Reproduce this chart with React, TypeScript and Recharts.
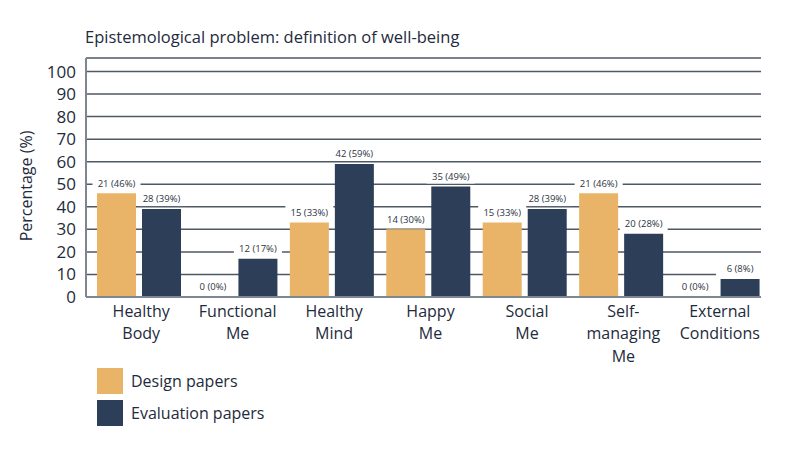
import React from 'react';
import { BarChart, Bar, XAxis, YAxis, CartesianGrid, LabelList } from 'recharts';

const categories = [
  'Healthy\nBody',
  'Functional\nMe',
  'Healthy\nMind',
  'Happy\nMe',
  'Social\nMe',
  'Self-\nmanaging\nMe',
  'External\nConditions',
];
const designPercent = [46, 0, 33, 30, 33, 46, 0];
const designCount = [21, 0, 15, 14, 15, 21, 0];
const evalPercent = [39, 17, 59, 49, 39, 28, 8];
const evalCount = [28, 12, 42, 35, 28, 20, 6];
const yTicks = [0, 10, 20, 30, 40, 50, 60, 70, 80, 90, 100];

const seriesNames = ['Design papers', 'Evaluation papers'];
const ORANGE = '#E9B467';
const NAVY = '#2C3E58';
const TEXT = '#1E2B3C';
const FONT = '"Open Sans", sans-serif';

const data = categories.map((c, i) => ({
  name: c,
  design: designPercent[i],
  evaluation: evalPercent[i],
  designLabel: `${designCount[i]} (${designPercent[i]}%)`,
  evalLabel: `${evalCount[i]} (${evalPercent[i]}%)`,
}));

const zeroMin = (v: any) => (Number(v) === 0 ? 0.01 : 0);

const BarLabel = (props: any) => {
  const { x, y, width, height, value } = props;
  const top = Math.min(Number(y), Number(y) + Number(height || 0));
  const cx = Number(x) + Number(width) / 2;
  const cy = top - 10;
  return (
    <g>
      <rect x={cx - 24} y={cy - 7} width={48} height={14} fill="#ffffff" />
      <text x={cx} y={cy} dy={3.3} textAnchor="middle" fontSize={9.5} fill="#2b3441" fontFamily={FONT} fontWeight={500}>
        {value}
      </text>
    </g>
  );
};

const XTick = (props: any) => {
  const { x, y, payload } = props;
  const lines = String(payload.value).split('\n');
  const tx = Number(x) + 2;
  return (
    <text x={tx} y={y} textAnchor="middle" fontSize={16} fill={TEXT} fontFamily={FONT} fontWeight={500}>
      {lines.map((l, i) => (
        <tspan key={i} x={tx} dy={i === 0 ? 19.5 : 22.5}>
          {l}
        </tspan>
      ))}
    </text>
  );
};

const YLabel = () => (
  <text
    x={26}
    y={186}
    transform="rotate(-90, 26, 186)"
    textAnchor="middle"
    dominantBaseline="central"
    fontSize={16}
    fill={TEXT}
    fontFamily={FONT}
    fontWeight={500}
  >
    Percentage (%)
  </text>
);

export default function App() {
  return (
    <div style={{ position: 'absolute', left: 0, top: 0, width: 800, height: 450, background: '#fff', fontFamily: FONT }}>
      <div
        style={{
          position: 'absolute',
          left: 85,
          top: 27,
          fontSize: 16.5,
          lineHeight: '20px',
          color: TEXT,
          fontWeight: 500,
          whiteSpace: 'nowrap',
        }}
      >
        Epistemological problem: definition of well-being
      </div>
      <BarChart
        width={800}
        height={450}
        data={data}
        margin={{ top: 58, right: 39, bottom: 0, left: 0 }}
        barGap={6}
        barSize={39}
      >
        <CartesianGrid horizontal vertical={false} stroke="#4F5965" strokeWidth={1.5} />
        <XAxis
          dataKey="name"
          height={153}
          interval={0}
          tickLine={false}
          tickSize={0}
          tickMargin={0}
          padding={{ left: 5, right: -5 }}
          axisLine={{ stroke: '#7D8791', strokeWidth: 2 }}
          tick={<XTick />}
        />
        <YAxis
          width={86}
          domain={[0, 106]}
          ticks={yTicks}
          interval={0}
          tickLine={false}
          tickSize={6}
          tickMargin={4}
          axisLine={{ stroke: '#7D8791', strokeWidth: 2 }}
          tick={{ fontSize: 17, fill: TEXT, fontFamily: FONT, fontWeight: 500 }}
          label={<YLabel />}
        />
        <Bar dataKey="design" name={seriesNames[0]} fill={ORANGE} minPointSize={zeroMin} isAnimationActive={false}>
          <LabelList dataKey="designLabel" content={<BarLabel />} />
        </Bar>
        <Bar dataKey="evaluation" name={seriesNames[1]} fill={NAVY} minPointSize={zeroMin} isAnimationActive={false}>
          <LabelList dataKey="evalLabel" content={<BarLabel />} />
        </Bar>
      </BarChart>
      {[ORANGE, NAVY].map((col, i) => (
        <div key={i} style={{ position: 'absolute', left: 97, top: 368 + i * 32, height: 26, display: 'flex', alignItems: 'center' }}>
          <div style={{ width: 26, height: 26, background: col }} />
          <span style={{ marginLeft: 8, fontSize: 16, color: TEXT, fontWeight: 500, whiteSpace: 'nowrap' }}>{seriesNames[i]}</span>
        </div>
      ))}
    </div>
  );
}
